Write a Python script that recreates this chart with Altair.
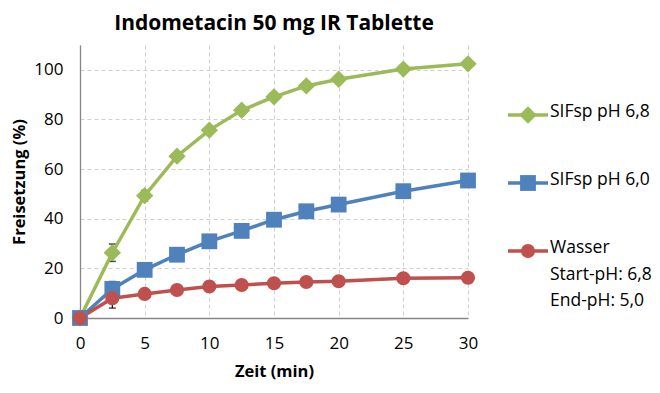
import altair as alt
import pandas as pd

# ---- data ----
time_min = [0, 2.5, 5, 7.5, 10, 12.5, 15, 17.5, 20, 25, 30]
sif_68 = [0, 26.3, 49.3, 65.2, 75.7, 83.7, 89.1, 93.5, 96.2, 100.3, 102.4]
sif_60 = [0, 11.7, 19.4, 25.5, 30.9, 35.1, 39.6, 43.0, 45.7, 51.1, 55.4]
wasser = [0, 8.0, 9.7, 11.3, 12.7, 13.3, 14.0, 14.5, 14.8, 16.0, 16.2]

series_names = ["SIFsp pH 6,8", "SIFsp pH 6,0", "Wasser"]
series_labels = ["SIFsp pH 6,8", "SIFsp pH 6,0", "Wasser\nStart-pH: 6,8\nEnd-pH: 5,0"]
series_colors = ["#9BBB59", "#4F81BD", "#C0504D"]
series_shapes = ["diamond", "square", "circle"]
marker_sizes = [300, 200, 225]

# error bars (only visible ones)
err_series = ["SIFsp pH 6,8", "SIFsp pH 6,8", "SIFsp pH 6,0", "Wasser"]
err_time = [2.5, 5, 2.5, 2.5]
err_mean = [26.3, 49.3, 11.7, 8.0]
err_sd = [3.5, 2.1, 3.0, 4.0]

y_ticks = [0, 20, 40, 60, 80, 100]
x_ticks = [0, 5, 10, 15, 20, 25, 30]

FONT = "Open Sans"

rows = []
for name, vals in zip(series_names, [sif_68, sif_60, wasser]):
    for t, v in zip(time_min, vals):
        rows.append({"series": name, "t": t, "v": v})
df = pd.DataFrame(rows)

err_df = pd.DataFrame({
    "series": err_series, "t": err_time,
    "lo": [m - s for m, s in zip(err_mean, err_sd)],
    "hi": [m + s for m, s in zip(err_mean, err_sd)],
})

color = alt.Color("series:N", scale=alt.Scale(domain=series_names, range=series_colors), legend=None)
shape = alt.Shape("series:N", scale=alt.Scale(domain=series_names, range=series_shapes), legend=None)
size = alt.Size("series:N", scale=alt.Scale(domain=series_names, range=marker_sizes), legend=None)

xscale = alt.Scale(domain=[0, 30], nice=False, zero=False)
yscale = alt.Scale(domain=[0, 110], nice=False)

x_enc = alt.X("t:Q", scale=xscale, title="Zeit (min)",
              axis=alt.Axis(values=x_ticks, ticks=False, tickSize=0, labelPadding=17,
                            titlePadding=12, domainColor="#868686", domainWidth=1.3,
                            gridDash=[4, 3], gridColor="#D0D0D0", labelFlush=False))
y_enc = alt.Y("v:Q", scale=yscale, title="Freisetzung (%)",
              axis=alt.Axis(values=y_ticks, ticks=False, tickSize=0, labelPadding=17,
                            titlePadding=6, domainColor="#868686", domainWidth=1.3,
                            gridDash=[4, 3], gridColor="#D0D0D0"))

err_rule = alt.Chart(err_df).mark_rule(color="black", strokeWidth=1.2).encode(
    x=alt.X("t:Q", scale=xscale), y=alt.Y("lo:Q", scale=yscale), y2="hi:Q")
cap_lo = alt.Chart(err_df).mark_tick(color="black", orient="horizontal", size=7, thickness=1.5).encode(
    x=alt.X("t:Q", scale=xscale), y=alt.Y("lo:Q", scale=yscale))
cap_hi = alt.Chart(err_df).mark_tick(color="black", orient="horizontal", size=7, thickness=1.5).encode(
    x=alt.X("t:Q", scale=xscale), y=alt.Y("hi:Q", scale=yscale))

lines = alt.Chart(df).mark_line(strokeWidth=3.5).encode(
    x=x_enc, y=y_enc, color=color, detail="series:N")
points = alt.Chart(df).mark_point(filled=True, opacity=1).encode(
    x=alt.X("t:Q", scale=xscale), y=alt.Y("v:Q", scale=yscale), color=color, shape=shape, size=size)

main = alt.layer(err_rule, cap_lo, cap_hi, lines, points).properties(
    width=388, height=273,
    title=alt.TitleParams("Indometacin 50 mg IR Tablette", fontSize=21, font=FONT,
                          fontWeight="bold", anchor="middle", offset=11, color="#000000"))

# ---- manual legend panel ----
leg_sizes = [170, 120, 140]
leg_df = pd.DataFrame({"series": series_names, "label": series_labels})
leg_y = alt.Y("series:N", scale=alt.Scale(type="point", domain=series_names, range=[70, 206], padding=0),
              axis=None)
leg_size = alt.Size("series:N", scale=alt.Scale(domain=series_names, range=leg_sizes), legend=None)
leg_rule = alt.Chart(leg_df).mark_rule(strokeWidth=3.5).encode(
    x=alt.value(0), x2=alt.value(40), y=leg_y, color=color)
leg_pt = alt.Chart(leg_df).mark_point(filled=True, opacity=1).encode(
    x=alt.value(20), y=leg_y, color=color, shape=shape, size=leg_size)
leg_txt = alt.Chart(leg_df).mark_text(align="left", baseline="top", dy=-12, lineBreak="\n",
                                      lineHeight=26.5, fontSize=17.5, font=FONT, color="#000000").encode(
    x=alt.value(42), y=leg_y, text="label:N")
legend = alt.layer(leg_rule, leg_pt, leg_txt).properties(width=140, height=273)

chart = alt.hconcat(main, legend, spacing=28).properties(
    padding={"left": 3, "top": 5, "right": 0, "bottom": 0}
).configure_view(stroke=None).configure_axis(
    labelFont=FONT, labelFontSize=17, labelColor="#000000",
    titleFont=FONT, titleFontSize=16.5, titleFontWeight="bold", titleColor="#000000",
)

chart.save("out.html", embed_options={"renderer": "svg", "actions": False})
